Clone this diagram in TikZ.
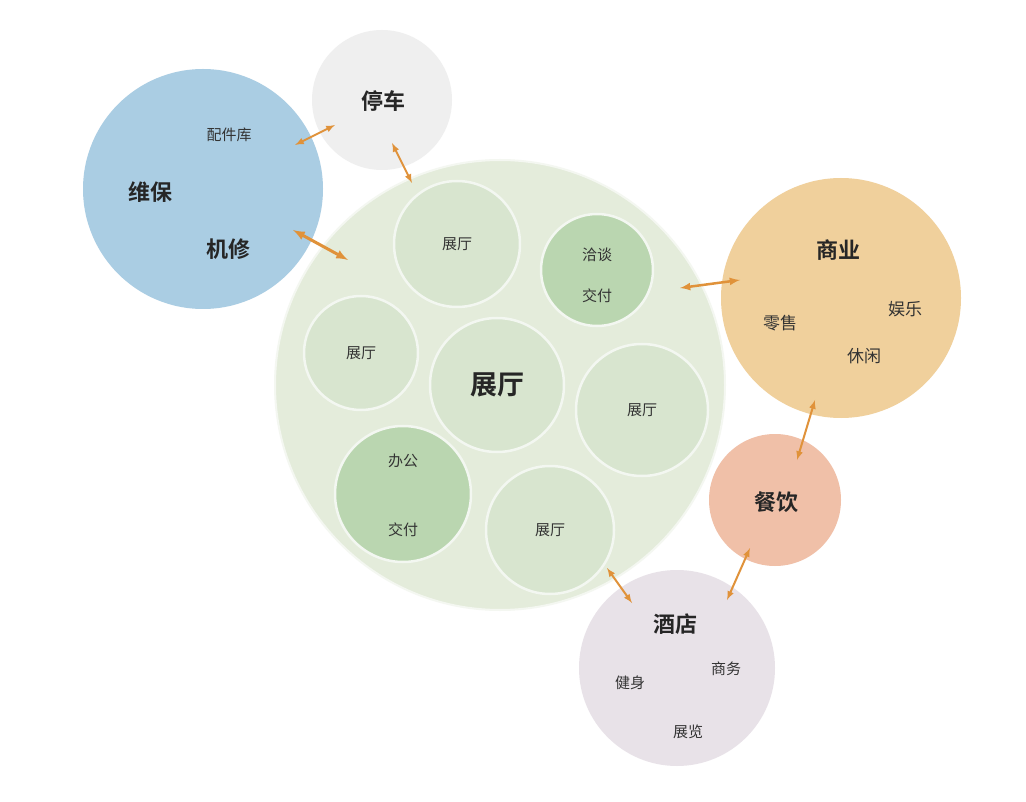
\documentclass[tikz,border=0pt]{standalone}
\usepackage{fontspec}
\setmainfont{Noto Sans CJK SC}[BoldFont={Noto Sans CJK SC Bold}]
\begin{document}
\begin{tikzpicture}[x=1pt,y=-1pt,
  bub/.style={circle,minimum size=#1,inner sep=0pt},
  lab/.style={font=\fontsize{15}{15}\selectfont,text=black!80},
  big/.style={font=\bfseries\fontsize{22}{22}\selectfont,text=black!85},
  arr/.style={<->,>=latex,draw={rgb,255:red,224;green,146;blue,58},line width=2pt,shorten <=0pt}]
\definecolor{blue1}{RGB}{170,205,227}
\definecolor{grey1}{RGB}{239,239,239}
\definecolor{green0}{RGB}{228,236,219}
\definecolor{green1}{RGB}{216,229,207}
\definecolor{green2}{RGB}{186,214,176}
\definecolor{orange1}{RGB}{240,208,156}
\definecolor{salmon}{RGB}{240,192,168}
\definecolor{lav}{RGB}{232,226,232}
\path[fill=white] (0,0) rectangle (1026,802);
\useasboundingbox (0,0) rectangle (1026,802);
\node[bub=240pt,fill=blue1] (wb) at (203,189) {};
\node[bub=140pt,fill=grey1] (tc) at (382,100) {};
\node[bub=450pt,fill=green0,draw=white!60!green0,line width=2pt] (zt) at (500,385) {};
\tikzset{inner/.style={bub=#1,draw=white!70!green1,line width=2.5pt}}
\node[inner=126pt,fill=green1] (z1) at (457,244) {};
\node[inner=112pt,fill=green2] (qt) at (597,270) {};
\node[inner=114pt,fill=green1] (z2) at (361,353) {};
\node[inner=134pt,fill=green1] (z0) at (497,385) {};
\node[inner=132pt,fill=green1] (z3) at (642,410) {};
\node[inner=136pt,fill=green2] (bg) at (403,494) {};
\node[inner=128pt,fill=green1] (z4) at (550,530) {};
\node[bub=240pt,fill=orange1] (sy) at (841,298) {};
\node[bub=132pt,fill=salmon] (cy) at (775,500) {};
\node[bub=196pt,fill=lav] (jd) at (677,668) {};
% texts
\node[lab] (t1) at (229,135) {配件库};
\node[big] (t2) at (150,192) {维保};
\node[big] (t3) at (228,249) {机修};
\node[big] (t4) at (383,101) {停车};
\node[lab] at (z1) {展厅};
\node[lab] at (597,255) {洽谈};
\node[lab] at (597,296) {交付};
\node[lab] at (z2) {展厅};
\node[font=\bfseries\fontsize{27}{27}\selectfont,text=black!85] at (z0) {展厅};
\node[lab] at (z3) {展厅};
\node[lab] at (403,461) {办公};
\node[lab] at (403,530) {交付};
\node[lab] at (z4) {展厅};
\node[big] at (838,250) {商业};
\node[lab,font=\fontsize{17}{17}\selectfont] at (780,323) {零售};
\node[lab,font=\fontsize{17}{17}\selectfont] at (905,309) {娱乐};
\node[lab,font=\fontsize{17}{17}\selectfont] at (864,356) {休闲};
\node[big] at (776,502) {餐饮};
\node[big] at (675,624) {酒店};
\node[lab] at (630,683) {健身};
\node[lab] at (726,669) {商务};
\node[lab] at (688,732) {展览};
% arrows
\coordinate (a1) at (295,145); \coordinate (a2) at (335,125);
\coordinate (b1) at (392,143); \coordinate (b2) at (412,183);
\coordinate (c1) at (293,230); \coordinate (c2) at (348,260);
\coordinate (d1) at (680,288); \coordinate (d2) at (740,280);
\coordinate (e1) at (815,400); \coordinate (e2) at (797,460);
\coordinate (f1) at (607,568); \coordinate (f2) at (632,603);
\coordinate (g1) at (750,548); \coordinate (g2) at (727,600);
\draw[arr] (a1) -- (a2);
\draw[arr] (b1) -- (b2);
\draw[arr,line width=3pt] (c1) -- (c2);
\draw[arr,line width=2.5pt] (d1) -- (d2);
\draw[arr] (e1) -- (e2);
\draw[arr] (f1) -- (f2);
\draw[arr] (g1) -- (g2);
\end{tikzpicture}
\end{document}
